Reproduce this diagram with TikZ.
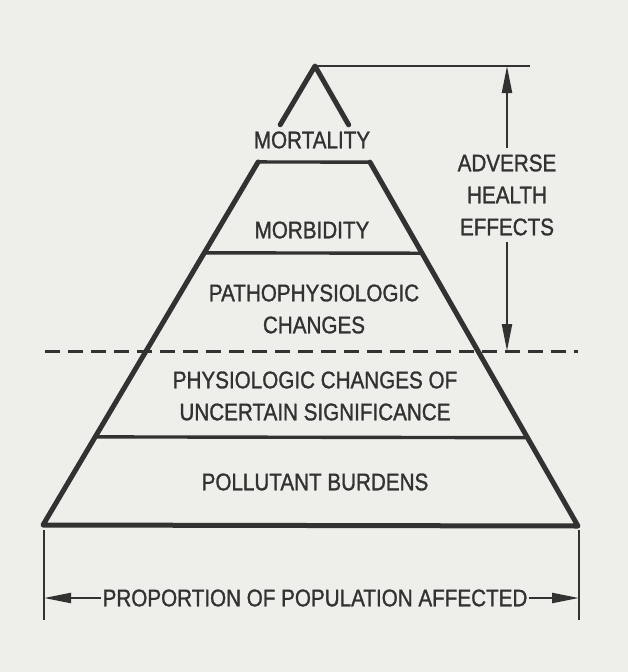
\documentclass[tikz,border=0pt]{standalone}
\usepackage{fontspec}
\setmainfont{Liberation Sans}[FakeStretch=0.86,FakeBold=1.2]
\usetikzlibrary{arrows.meta,positioning,calc}
\definecolor{paper}{RGB}{238,238,235}
\definecolor{ink}{RGB}{50,50,50}
\tikzset{
  lvl/.style={font=\fontsize{24}{32}\selectfont,align=center,inner sep=1pt,text=ink},
  side/.style={draw=ink,line width=5pt,line cap=round,line join=round},
  sep/.style={draw=ink,line width=3.4pt},
  thinln/.style={draw=ink,line width=1.8pt},
  dashln/.style={draw=ink,line width=3pt,dash pattern=on 15pt off 8pt},
  arr/.style={draw=ink,line width=2.2pt,-{Triangle[length=27pt,width=10pt]}},
}
\begin{document}
\begin{tikzpicture}[x=1pt,y=-1pt]
 \fill[paper] (0,0) rectangle (628,672);
 \useasboundingbox (0,0) rectangle (628,672);
 % pyramid
 \coordinate (apex) at (315,66);
 \coordinate (bl) at (43,525);
 \coordinate (br) at (578,526);
 \draw[side] ($(apex)!0.128!(bl)$) -- (apex) -- ($(apex)!0.128!(br)$);
 \draw[side] ($(apex)!0.209!(bl)$) -- (bl) -- (br) -- ($(apex)!0.209!(br)$);
 \draw[sep] ($(apex)!0.209!(bl)$) -- ($(apex)!0.209!(br)$);
 \draw[sep] ($(apex)!0.407!(bl)$) -- ($(apex)!0.407!(br)$);
 \draw[sep] ($(apex)!0.808!(bl)$) -- ($(apex)!0.808!(br)$);
 % level texts
 \node[lvl] (mort) at (312,140) {MORTALITY};
 \node[lvl] (morb) at (312,230) {MORBIDITY};
 \node[lvl] (patho) at (314,309) {PATHOPHYSIOLOGIC\\CHANGES};
 \node[lvl] (physio) at (315,396) {PHYSIOLOGIC CHANGES OF\\UNCERTAIN SIGNIFICANCE};
 \node[lvl] (burden) at (315,482) {POLLUTANT BURDENS};
 % threshold
 \coordinate (dl) at (45,351);
 \coordinate (dr) at (578,351);
 \draw[dashln] (dl) -- (dr);
 % adverse effects range
 \coordinate (topr) at (530,66);
 \draw[thinln] (apex) -- (topr);
 \node[lvl,inner sep=6pt] (adv) at (507,195) {ADVERSE\\HEALTH\\EFFECTS};
 \draw[arr] (adv.north) -- (adv.north |- topr);
 \draw[arr] (adv.south) -- (adv.south |- dr);
 % population width
 \coordinate (lb) at (44,530);
 \coordinate (rb) at (579,530);
 \draw[thinln] (lb) -- ++(0,90);
 \draw[thinln] (rb) -- ++(0,90);
 \node[lvl] (prop) at (315,598) {PROPORTION OF POPULATION AFFECTED};
 \draw[arr] (prop.west) -- (prop.west -| lb);
 \draw[arr] (prop.east) -- (prop.east -| rb);
\end{tikzpicture}
\end{document}
